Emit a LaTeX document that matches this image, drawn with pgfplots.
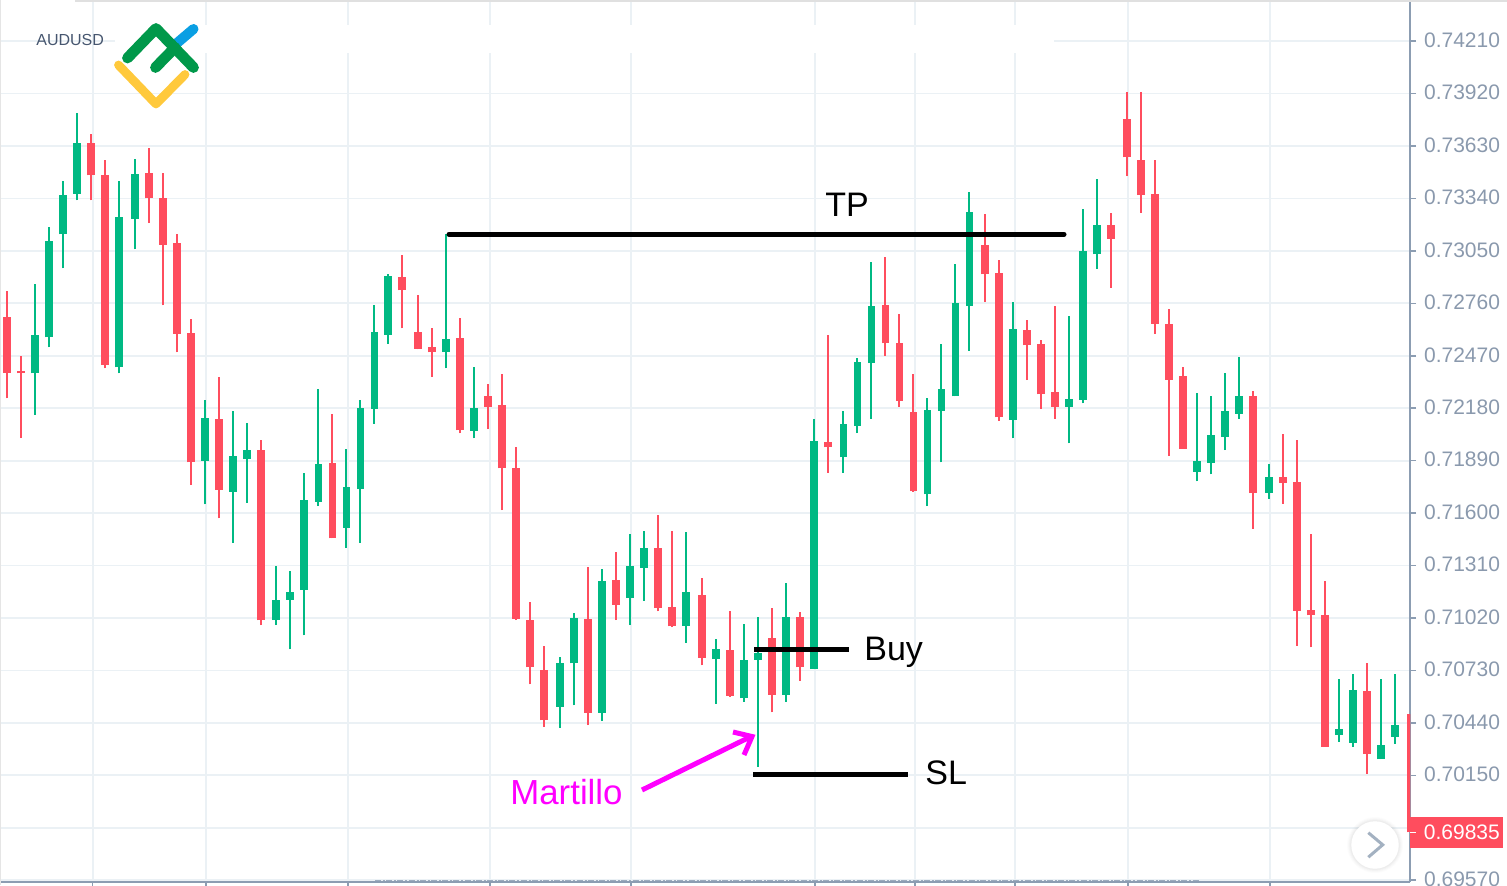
\documentclass[border=0pt]{standalone}
\usepackage{fontspec}
\setmainfont{Liberation Sans}
\usepackage{pgfplots}
\usepackage{pgfplotstable}
\pgfplotsset{compat=1.18}
\definecolor{upc}{HTML}{00B983}
\definecolor{downc}{HTML}{FF4D5E}
\definecolor{gridc}{HTML}{EBF1F5}
\definecolor{axisc}{HTML}{8C9DB2}
\definecolor{labelc}{HTML}{8A99AD}
\definecolor{symc}{HTML}{46566F}
\definecolor{logoG}{HTML}{00984A}
\definecolor{logoY}{HTML}{FFC93C}
\definecolor{logoB}{HTML}{0A9FE3}
\definecolor{magentaRGB}{HTML}{FF00FF}
\pgfplotstableread{
x h t b l
34.7 0.72865 0.72585 0.72373 0.72143
48.7 0.73184 0.73107 0.72572 0.72517
62.7 0.73437 0.73359 0.73142 0.72954
76.7 0.73811 0.73645 0.73366 0.73330
118.7 0.73437 0.73236 0.72406 0.72373
134.7 0.73560 0.73475 0.73227 0.73059
204.7 0.72226 0.72124 0.71890 0.71649
232.7 0.72166 0.71918 0.71717 0.71436
246.7 0.72100 0.71951 0.71898 0.71658
276 0.71308 0.71118 0.71009 0.70981
290 0.71278 0.71162 0.71120 0.70847
304 0.71820 0.71674 0.71177 0.70924
318.3 0.72285 0.71872 0.71662 0.71639
346.3 0.71956 0.71743 0.71518 0.71407
360.3 0.72226 0.72183 0.71733 0.71436
374.3 0.72749 0.72602 0.72178 0.72093
388 0.72922 0.72911 0.72587 0.72537
446 0.73144 0.72565 0.72491 0.72401
474 0.72410 0.72183 0.72056 0.72014
560 0.70806 0.70771 0.70530 0.70412
574 0.71048 0.71020 0.70769 0.70537
602 0.71289 0.71223 0.70496 0.70450
630 0.71483 0.71306 0.71131 0.70981
644 0.71503 0.71407 0.71296 0.71116
686 0.71494 0.71164 0.70976 0.70883
715.7 0.70902 0.70847 0.70792 0.70546
743.7 0.70989 0.70788 0.70576 0.70556
757.7 0.71027 0.70825 0.70788 0.70198
785.7 0.71212 0.71027 0.70594 0.70556
813.7 0.72121 0.71997 0.70738 0.70738
843.3 0.72166 0.72095 0.71909 0.71822
857.3 0.72458 0.72437 0.72082 0.72043
871.3 0.72989 0.72745 0.72429 0.72121
927.3 0.72235 0.72169 0.71704 0.71639
941.3 0.72535 0.72286 0.72165 0.71881
955.3 0.72979 0.72764 0.72246 0.72246
969.3 0.73376 0.73265 0.72745 0.72498
1013 0.72768 0.72618 0.72117 0.72014
1069 0.72690 0.72233 0.72189 0.71986
1083 0.73280 0.73050 0.72226 0.72207
1097 0.73446 0.73193 0.73031 0.72952
1197 0.72266 0.71887 0.71830 0.71775
1211 0.72246 0.72033 0.71879 0.71815
1225 0.72374 0.72163 0.72021 0.71949
1239 0.72461 0.72249 0.72149 0.72123
1268.7 0.71870 0.71802 0.71710 0.71679
1338.7 0.70683 0.70405 0.70373 0.70335
1352.7 0.70709 0.70622 0.70329 0.70307
1380.7 0.70683 0.70320 0.70239 0.70239
1394.7 0.70709 0.70428 0.70364 0.70325
}\upcandles
\pgfplotstableread{
x h t b l
6.7 0.72827 0.72685 0.72377 0.72235
20.7 0.72469 0.72386 0.72373 0.72015
90.7 0.73695 0.73645 0.73468 0.73330
104.7 0.73551 0.73470 0.72421 0.72401
148.7 0.73619 0.73483 0.73341 0.73204
162.7 0.73483 0.73344 0.73083 0.72749
176.7 0.73144 0.73095 0.72592 0.72489
190.7 0.72672 0.72598 0.71881 0.71756
218.7 0.72351 0.72121 0.71728 0.71571
260.7 0.72004 0.71951 0.71007 0.70981
332.3 0.72150 0.71876 0.71461 0.71461
402 0.73029 0.72907 0.72832 0.72622
418 0.72808 0.72602 0.72509 0.72506
432 0.72624 0.72520 0.72489 0.72353
460 0.72681 0.72570 0.72058 0.72041
488 0.72314 0.72249 0.72189 0.72064
502 0.72371 0.72196 0.71848 0.71617
516 0.71966 0.71848 0.71015 0.71009
530 0.71107 0.71007 0.70747 0.70653
544 0.70864 0.70734 0.70454 0.70419
588 0.71300 0.71015 0.70495 0.70428
616 0.71387 0.71230 0.71092 0.71009
658 0.71590 0.71405 0.71075 0.71057
672 0.71503 0.71079 0.70974 0.70970
701.7 0.71240 0.71147 0.70800 0.70758
729.7 0.71057 0.70841 0.70589 0.70585
771.7 0.71077 0.70908 0.70596 0.70498
799.7 0.71055 0.71027 0.70747 0.70672
827.7 0.72583 0.71995 0.71964 0.71822
885.3 0.73018 0.72751 0.72539 0.72469
899.3 0.72700 0.72542 0.72222 0.72189
913.3 0.72371 0.72161 0.71721 0.71717
985 0.73252 0.73083 0.72921 0.72768
999 0.73000 0.72928 0.72130 0.72111
1027 0.72670 0.72613 0.72528 0.72335
1041 0.72556 0.72534 0.72257 0.72178
1055 0.72747 0.72268 0.72189 0.72121
1111 0.73260 0.73192 0.73118 0.72847
1127 0.73929 0.73778 0.73568 0.73464
1141 0.73929 0.73553 0.73359 0.73261
1155 0.73551 0.73363 0.72648 0.72592
1169 0.72731 0.72644 0.72338 0.71918
1183 0.72410 0.72360 0.71955 0.71955
1253 0.72278 0.72249 0.71711 0.71513
1282.7 0.72036 0.71802 0.71768 0.71651
1296.7 0.72006 0.71774 0.71060 0.70867
1310.7 0.71485 0.71066 0.71034 0.70858
1324.7 0.71222 0.71038 0.70307 0.70307
1366.7 0.70769 0.70616 0.70267 0.70160
1411 0.70488 0.70488 0.69835 0.69835
}\downcandles
\begin{document}
\begin{tikzpicture}
\path[use as bounding box] (0pt,-1.5pt) rectangle (753.5pt,441pt);
\begin{axis}[
  scale only axis, width=705pt, height=441pt,
  xmin=0, xmax=1410, ymin=0.695601, ymax=0.744376,
  axis x line*=bottom, axis y line*=right,
  axis line style={-, color=axisc, line width=0.75pt},
  xtick={92.7,206,348,490,631,815,915,1015,1128,1270},
  xticklabels={},
  ytick={0.7421,0.7392,0.7363,0.7334,0.7305,0.7276,0.7247,0.7218,0.7189,0.7160,0.7131,0.7102,0.7073,0.7044,0.7015,0.6986,0.6957},
  yticklabels={0.74210,0.73920,0.73630,0.73340,0.73050,0.72760,0.72470,0.72180,0.71890,0.71600,0.71310,0.71020,0.70730,0.70440,0.70150,,\raisebox{-0.75pt}{0.69570}},
  tick align=outside, major tick length=3pt,
  tick style={color=axisc, line width=0.75pt},
  yticklabel style={font=\fontsize{10.5pt}{12pt}\selectfont, text=labelc, anchor=west, yshift=0.5pt, xshift=0.5pt},
  grid=major, major grid style={color=gridc, line width=0.9pt},
  axis on top=false,
]
% wicks
\addplot[draw=upc, line width=0.85pt, quiver={u=0, v=\thisrow{h}-\thisrow{l}}] table[x=x, y=l] {\upcandles};
\addplot[draw=downc, line width=0.85pt, quiver={u=0, v=\thisrow{h}-\thisrow{l}}] table[x=x, y=l] {\downcandles};
% bodies
\addplot[draw=upc, line width=3.8pt, line cap=butt, quiver={u=0, v=\thisrow{t}-\thisrow{b}}] table[x=x, y=b] {\upcandles};
\addplot[draw=downc, line width=3.8pt, line cap=butt, quiver={u=0, v=\thisrow{t}-\thisrow{b}}] table[x=x, y=b] {\downcandles};
% levels
\addplot[black, line width=2.5pt, line cap=round] coordinates {(449,0.731419) (1064,0.731419)};
\addplot[black, line width=2.5pt] coordinates {(754,0.708469) (849,0.708469)};
\addplot[black, line width=2.5pt] coordinates {(753,0.701556) (908,0.701556)};
\end{axis}
\begin{scope}[shift={(0pt,441pt)}, x=0.5pt, y=-0.5pt]
  % frame pieces
  \fill[white] (115,25) rectangle (1054,53);
  \fill[black!12] (75,0) rectangle (1507,1.6);
  \fill[black!10] (0,0) rectangle (1,885);
  \draw[color=axisc!85, line width=0.6pt, dash pattern=on 3pt off 1pt on 1pt off 0.6pt] (375,880.6) -- (1200,880.6);
  % logo
  \draw[logoB, line width=5pt, line cap=round] (176.7,43.3) -- (193.5,29);
  \draw[logoY, line width=4.4pt, line cap=round, line join=round] (118.5,65) -- (156,104) -- (185,74.5);
  \draw[logoG, line width=5.4pt, line cap=round, line join=round] (127.5,58) -- (156,28.5) -- (193.5,67.5);
  \draw[logoG, line width=5.4pt, line cap=round] (155.5,67.5) -- (175,47.5);
  \node[anchor=west, inner sep=0pt, text=symc, font=\fontsize{8pt}{10pt}\selectfont] at (36,40) {AUDUSD};
  % annotations
  \node[inner sep=0pt, font=\fontsize{17pt}{20pt}\selectfont] at (847,205) {TP};
  \node[anchor=west, inner sep=0pt, font=\fontsize{17pt}{20pt}\selectfont] at (864,652) {Buy};
  \node[anchor=west, inner sep=0pt, font=\fontsize{17pt}{20pt}\selectfont] at (925,773) {SL};
  \node[anchor=west, inner sep=0pt, text=magentaRGB, font=\fontsize{17.4pt}{20pt}\selectfont] at (510,792) {Martillo};
  \draw[magentaRGB, line width=2.5pt] (642,790) -- (750,737);
  \draw[magentaRGB, line width=2.5pt, line join=miter] (733,732) -- (752,736.5) -- (744,755);
  % last price tag
  \fill[downc] (1410,817.3) rectangle (1503,848);
  \draw[white, line width=0.75pt] (1410,832.3) -- (1416,832.3);
  \node[anchor=west, inner sep=0pt, text=white, font=\fontsize{10.5pt}{12pt}\selectfont] at (1423.5,832) {0.69835};
  % scroll button
  \foreach \r/\o in {28/0.012,27/0.015,26/0.02,25/0.025}{\fill[black, opacity=\o] (1375,845) circle[radius=\r];}
  \fill[white] (1375,845) circle[radius=23.7];
  \draw[color=axisc!80, line width=1.5pt] (1368.3,832.7) -- (1382.7,844.8) -- (1368.3,857.2);
\end{scope}
\end{tikzpicture}
\end{document}
